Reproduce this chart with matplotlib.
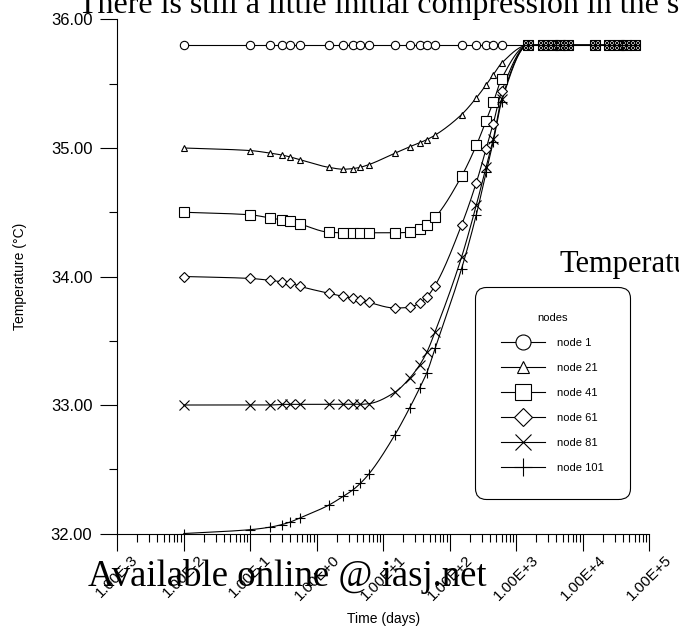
import numpy as np
import matplotlib
matplotlib.use('Agg')
import matplotlib.pyplot as plt
from matplotlib.lines import Line2D
from matplotlib.ticker import LogLocator, FuncFormatter, MultipleLocator, FormatStrFormatter, NullFormatter

plt.rcParams['font.family'] = ['Liberation Sans', 'DejaVu Sans']

# time steps (days)
time = [0.01, 0.1, 0.2, 0.3, 0.4, 0.55, 1.5, 2.5, 3.5, 4.5, 6,
        15, 25, 35, 45, 60, 150, 250, 350, 450, 600,
        1500, 2500, 3500, 4500, 6000, 15000, 25000, 35000, 45000, 60000]

# temperature (deg C) per node
node1 = [35.8, 35.8, 35.8, 35.8, 35.8, 35.8, 35.8, 35.8, 35.8, 35.8, 35.8,
         35.8, 35.8, 35.8, 35.8, 35.8, 35.8, 35.8, 35.8, 35.8, 35.8,
         35.8, 35.8, 35.8, 35.8, 35.8, 35.8, 35.8, 35.8, 35.8, 35.8]
node21 = [35.00, 34.98, 34.96, 34.945, 34.93, 34.91, 34.85, 34.835, 34.84, 34.85, 34.87,
          34.96, 35.01, 35.04, 35.065, 35.10, 35.26, 35.39, 35.49, 35.57, 35.66,
          35.8, 35.8, 35.8, 35.8, 35.8, 35.8, 35.8, 35.8, 35.8, 35.8]
node41 = [34.50, 34.48, 34.455, 34.44, 34.43, 34.41, 34.345, 34.34, 34.34, 34.34, 34.34,
          34.34, 34.345, 34.37, 34.40, 34.46, 34.78, 35.02, 35.21, 35.355, 35.54,
          35.8, 35.8, 35.8, 35.8, 35.8, 35.8, 35.8, 35.8, 35.8, 35.8]
node61 = [34.00, 33.985, 33.97, 33.96, 33.95, 33.925, 33.87, 33.845, 33.83, 33.82, 33.80,
          33.755, 33.76, 33.795, 33.84, 33.93, 34.40, 34.73, 34.99, 35.19, 35.44,
          35.8, 35.8, 35.8, 35.8, 35.8, 35.8, 35.8, 35.8, 35.8, 35.8]
node81 = [33.00, 33.00, 33.00, 33.005, 33.005, 33.005, 33.005, 33.005, 33.005, 33.005, 33.01,
          33.10, 33.21, 33.31, 33.41, 33.57, 34.15, 34.555, 34.85, 35.07, 35.38,
          35.8, 35.8, 35.8, 35.8, 35.8, 35.8, 35.8, 35.8, 35.8, 35.8]
node101 = [32.00, 32.03, 32.05, 32.07, 32.09, 32.12, 32.22, 32.29, 32.34, 32.39, 32.46,
           32.77, 32.98, 33.13, 33.25, 33.44, 34.06, 34.48, 34.81, 35.05, 35.36,
           35.8, 35.8, 35.8, 35.8, 35.8, 35.8, 35.8, 35.8, 35.8, 35.8]

labels = ['node 1', 'node 21', 'node 41', 'node 61', 'node 81', 'node 101']
markers = ['o', '^', 's', 'D', 'x', '+']
msizes = [6.0, 5.0, 6.5, 5.0, 6.5, 7.5]


def smooth(x, y, n=800):
    # monotone cubic through the points, in log10(time)
    lx = np.log10(np.asarray(x, float))
    y = np.asarray(y, float)
    h = np.diff(lx)
    d = np.diff(y) / h
    m = np.zeros_like(y)
    for k in range(1, len(y) - 1):
        if d[k - 1] * d[k] > 0:
            w1 = 2 * h[k] + h[k - 1]
            w2 = h[k] + 2 * h[k - 1]
            m[k] = (w1 + w2) / (w1 / d[k - 1] + w2 / d[k])
    m[0] = d[0]
    m[-1] = d[-1]
    xs = np.linspace(lx[0], lx[-1], n)
    i = np.clip(np.searchsorted(lx, xs, side='right') - 1, 0, len(lx) - 2)
    s = (xs - lx[i]) / h[i]
    h00 = 2 * s**3 - 3 * s**2 + 1
    h10 = s**3 - 2 * s**2 + s
    h01 = -2 * s**3 + 3 * s**2
    h11 = s**3 - s**2
    ys = h00 * y[i] + h10 * h[i] * m[i] + h01 * y[i + 1] + h11 * h[i] * m[i + 1]
    return 10**xs, ys


fig = plt.figure(figsize=(6.79, 6.29), dpi=100)
ax = fig.add_axes([0.1728, 0.1518, 0.7835, 0.8172])

handles = []
for vals, lab, mk, ms in zip([node1, node21, node41, node61, node81, node101], labels, markers, msizes):
    xs, ys = smooth(time, vals)
    ax.plot(xs, ys, color='k', lw=0.8, zorder=2)
    ax.plot(time, vals, ls='none', marker=mk, ms=ms, mfc='white', mec='k', mew=0.8, zorder=3)
    handles.append(Line2D([], [], color='k', lw=0.8, marker=mk, ms=ms, mfc='white', mec='k', mew=0.8, label=lab))

ax.set_xscale('log')
ax.set_xlim(1e-3, 1e5)
ax.set_ylim(32, 36)

ax.spines['top'].set_visible(False)
ax.spines['right'].set_visible(False)
ax.spines['left'].set_linewidth(0.8)
ax.spines['bottom'].set_linewidth(0.8)

ax.xaxis.set_major_locator(LogLocator(base=10, numticks=20))
ax.xaxis.set_minor_locator(LogLocator(base=10, subs=np.arange(2, 10), numticks=20))
ax.xaxis.set_major_formatter(FuncFormatter(lambda v, p: '1.00E%+d' % round(np.log10(v))))
ax.xaxis.set_minor_formatter(NullFormatter())
ax.yaxis.set_major_locator(MultipleLocator(1.0))
ax.yaxis.set_minor_locator(MultipleLocator(0.5))
ax.yaxis.set_major_formatter(FormatStrFormatter('%.2f'))

ax.tick_params(which='major', direction='out', length=12, width=0.8)
ax.tick_params(which='minor', direction='out', length=6, width=0.8)
ax.tick_params(axis='x', which='major', labelrotation=45, pad=2, labelsize=11)
ax.tick_params(axis='y', which='major', pad=6, labelsize=12)

ax.set_xlabel('Time (days)', fontsize=10, va='center')
ax.set_ylabel('Temperature (°C)', fontsize=10, va='center')
ax.xaxis.set_label_coords(0.5, -0.166)
ax.yaxis.set_label_coords(-0.183, 0.5)

leg = ax.legend(handles=handles, title='nodes', loc='upper left', bbox_to_anchor=(0.6724, 0.4796),
                borderaxespad=0, fontsize=8, title_fontsize=8, markerscale=1.8,
                handlelength=4.0, handletextpad=1.1, labelspacing=1.36, borderpad=2.3,
                frameon=True, fancybox=True, framealpha=1, edgecolor='k')
leg.get_frame().set_linewidth(0.8)
leg.get_frame().set_boxstyle('round', pad=0, rounding_size=1.0)

# stray text from the surrounding page
serif = ['Liberation Serif', 'DejaVu Serif']
fig.text(78 / 679, 1 - 13 / 629, 'There is still a little initial compression in the soil',
         family=serif, fontsize=23, ha='left', va='baseline')
fig.text(560 / 679, 1 - 272 / 629, 'Temperature', family=serif, fontsize=22,
         ha='left', va='baseline')
fig.text(88 / 679, 1 - 586 / 629, 'Available online @ iasj.net', family=serif, fontsize=26.5,
         ha='left', va='baseline', zorder=10)

fig.savefig('out.png', dpi=100)
